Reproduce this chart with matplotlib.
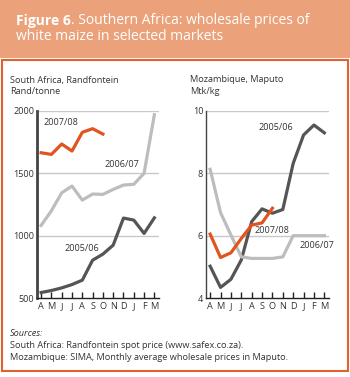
import numpy as np
import matplotlib.pyplot as plt
from matplotlib.patches import Rectangle

plt.rcParams['font.family'] = ['Open Sans', 'DejaVu Sans']

# months April to March
months = ['A', 'M', 'J', 'J', 'A', 'S', 'O', 'N', 'D', 'J', 'F', 'M']

# South Africa, Randfontein (Rand/tonne)
sa_2005 = [544, 560, 581, 608, 643, 803, 852, 924, 1141, 1125, 1018, 1143]
sa_2006 = [1082, 1200, 1344, 1398, 1285, 1334, 1331, 1371, 1406, 1412, 1500, 1970]
sa_2007 = [1665, 1652, 1735, 1679, 1829, 1858, 1815]

# Mozambique, Maputo (Mtk/kg)
mz_2005 = [5.02, 4.34, 4.60, 5.22, 6.45, 6.86, 6.72, 6.84, 8.32, 9.23, 9.55, 9.30]
mz_2006 = [8.13, 6.74, 6.02, 5.32, 5.27, 5.27, 5.27, 5.32, 6.0, 6.0, 6.0, 6.0]
mz_2007 = [6.05, 5.30, 5.45, 5.91, 6.34, 6.41, 6.88]

ORANGE = '#e2541e'
DARK = '#555555'
LIGHT = '#bdbdbd'
GRID = '#c8c8c8'
BAND = '#eba27b'
BORDER = '#e3612c'
TXT = '#333333'
FS = 6.6
LW = 2.3

W, H = 350, 377
fig = plt.figure(figsize=(W / 100, H / 100), dpi=100)


def fx(px):
    return px / W


def fy(py):
    return 1 - py / H


# header band and frame
fig.patches.append(Rectangle((0, fy(58)), 1, 58 / H, transform=fig.transFigure,
                             facecolor=BAND, edgecolor='none', zorder=0))
fig.patches.append(Rectangle((fx(1.5), fy(371)), fx(346.5), (371 - 59.5) / H,
                             transform=fig.transFigure, facecolor='white',
                             edgecolor=BORDER, linewidth=1.5, zorder=0))

# title: bold "Figure 6" followed by the rest in regular weight
t1 = fig.text(fx(16), fy(21), 'Figure 6', color='white', fontsize=10,
              va='center', ha='left', fontweight='bold')
fig.canvas.draw()
bb = t1.get_window_extent()
fig.text(bb.x1 / W, fy(21), '. Southern Africa: wholesale prices of',
         color='white', fontsize=10, va='center', ha='left')
fig.text(fx(16), fy(37), 'white maize in selected markets', color='white',
         fontsize=10, va='center', ha='left')

# panel titles
fig.text(fx(10), fy(80), 'South Africa, Randfontein', color=TXT, fontsize=FS, va='center')
fig.text(fx(10), fy(92), 'Rand/tonne', color=TXT, fontsize=FS, va='center')
fig.text(fx(190), fy(80), 'Mozambique, Maputo', color=TXT, fontsize=FS, va='center')
fig.text(fx(190), fy(92), 'Mtk/kg', color=TXT, fontsize=FS, va='center')

x = np.arange(len(months))


def setup(ax, lo, hi, ticks, spine_w):
    ax.set_zorder(2)
    ax.patch.set_alpha(0)
    ax.set_ylim(lo, hi)
    ax.set_xlim(-0.4, 11.45)
    ax.set_yticks(ticks)
    ax.set_xticks(x)
    ax.set_xticklabels(months)
    for t in ticks[1:]:
        ax.axhline(t, color=GRID, lw=1, zorder=1)
    for s in ['top', 'right']:
        ax.spines[s].set_visible(False)
    ax.spines['left'].set_linewidth(spine_w)
    ax.spines['left'].set_color('#444444')
    ax.spines['bottom'].set_linewidth(1)
    ax.spines['bottom'].set_color('#222222')
    ax.tick_params(axis='x', direction='in', length=4, width=1, color='#222222',
                   labelsize=FS, labelcolor=TXT, pad=3)
    ax.tick_params(axis='y', length=0, labelsize=FS, labelcolor=TXT, pad=2)


ax1 = fig.add_axes([fx(37), fy(298), fx(122), (298 - 111) / H])
setup(ax1, 500, 2000, [500, 1000, 1500, 2000], 2)
ax1.plot(x, sa_2005, color=DARK, lw=LW, zorder=3)
ax1.plot(x, sa_2006, color=LIGHT, lw=LW, zorder=3)
ax1.plot(x[:len(sa_2007)], sa_2007, color=ORANGE, lw=LW, zorder=3)
ax1.text(0.2, 1905, '2007/08', color=TXT, fontsize=FS, va='center')
ax1.text(9.5, 1570, '2006/07', color=TXT, fontsize=FS, va='center', ha='right')
ax1.text(2.3, 900, '2005/06', color=TXT, fontsize=FS, va='center')

ax2 = fig.add_axes([fx(206), fy(298), fx(123), (298 - 111) / H])
setup(ax2, 4, 10, [4, 6, 8, 10], 1)
ax2.plot(x, mz_2005, color=DARK, lw=LW, zorder=3)
ax2.plot(x, mz_2006, color=LIGHT, lw=LW, zorder=3)
ax2.plot(x[:len(mz_2007)], mz_2007, color=ORANGE, lw=LW, zorder=3)
ax2.text(8.0, 9.48, '2005/06', color=TXT, fontsize=FS, va='center', ha='right')
ax2.text(4.3, 6.18, '2007/08', color=TXT, fontsize=FS, va='center')
ax2.text(8.6, 5.7, '2006/07', color=TXT, fontsize=FS, va='center')

# sources
fig.text(fx(10), fy(334), 'Sources:', color=TXT, fontsize=FS, style='italic', va='center')
fig.text(fx(10), fy(346), 'South Africa: Randfontein spot price (www.safex.co.za).',
         color=TXT, fontsize=FS, va='center')
fig.text(fx(10), fy(357), 'Mozambique: SIMA, Monthly average wholesale prices in Maputo.',
         color=TXT, fontsize=FS, va='center')

fig.savefig('out.png', dpi=100)
